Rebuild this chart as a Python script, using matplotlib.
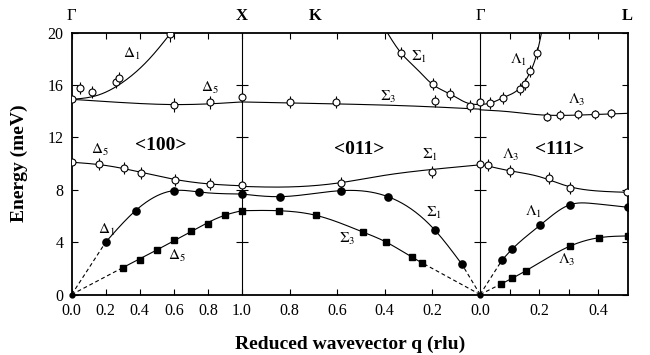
import numpy as np
import matplotlib

matplotlib.use("Agg")
import matplotlib.pyplot as plt

plt.rcParams["font.family"] = ["Liberation Serif", "DejaVu Serif"]
plt.rcParams["mathtext.fontset"] = "stix"

# x layout: each path gets its own stretch of the axis
KG_SCALE = 1.40   # K->Gamma, q runs 1.0 -> 0.0
GL_SCALE = 1.735  # Gamma->L, q runs 0.0 -> 0.5
U_X = 1.0
U_G = U_X + KG_SCALE
U_L = U_G + 0.5 * GL_SCALE

# ---- <100>  Gamma-X ----
D1_OPT_Q = [0.0, 0.05, 0.12, 0.26, 0.28, 0.58]
D1_OPT_E = [14.92, 15.74, 15.48, 16.2, 16.55, 19.86]
D1_OPT_ERR = [0.0, 0.45, 0.45, 0.45, 0.45, 0.55]
D1_OPT_FIT_Q = [0.0, 0.15, 0.3, 0.45, 0.62]
D1_OPT_FIT_E = [14.9, 15.2, 16.2, 17.9, 20.6]

D5_UP_Q = [0.6, 0.81, 1.0]
D5_UP_E = [14.47, 14.67, 15.1]
D5_UP_ERR = [0.5, 0.5, 0.4]
D5_UP_FIT_Q = [0.0, 0.3, 0.6, 0.8, 1.0]
D5_UP_FIT_E = [14.9, 14.65, 14.5, 14.55, 14.7]

D5_OPT_Q = [0.0, 0.16, 0.31, 0.41, 0.61, 0.81, 1.0]
D5_OPT_E = [10.1, 9.95, 9.63, 9.3, 8.74, 8.44, 8.36]
D5_OPT_ERR = [0.0, 0.45, 0.45, 0.45, 0.45, 0.45, 0.35]
D5_OPT_FIT_Q = [0.0, 0.2, 0.4, 0.6, 0.8, 1.0]
D5_OPT_FIT_E = [10.1, 9.85, 9.35, 8.8, 8.45, 8.3]

D1_LA_Q = [0.2, 0.375, 0.6, 0.75, 1.0]
D1_LA_E = [4.0, 6.4, 7.93, 7.82, 7.67]

D5_TA_Q = [0.3, 0.4, 0.5, 0.6, 0.7, 0.8, 0.9, 1.0]
D5_TA_E = [2.05, 2.66, 3.4, 4.13, 4.82, 5.36, 6.09, 6.4]
D5_TA_FIT_Q = [0.3, 0.5, 0.7, 0.9, 1.0]
D5_TA_FIT_E = [2.05, 3.4, 4.8, 6.05, 6.4]

# ---- <011>  X-K-Gamma ----
S1_UP_Q = [0.331, 0.199, 0.125, 0.041]
S1_UP_E = [18.41, 16.05, 15.3, 14.39]
S1_UP_FIT_Q = [0.40, 0.33, 0.27, 0.2, 0.125, 0.05, 0.0]
S1_UP_FIT_E = [20.3, 18.4, 17.3, 16.05, 15.3, 14.6, 14.5]

S3_UP_Q = [0.80, 0.604, 0.19]
S3_UP_E = [14.72, 14.67, 14.8]
S3_UP_FIT_Q = [1.0, 0.6, 0.3, 0.0]
S3_UP_FIT_E = [14.7, 14.55, 14.4, 14.15]

S1_OPT_Q = [0.583, 0.203]
S1_OPT_E = [8.54, 9.38]
S1_OPT_FIT_Q = [1.0, 0.85, 0.6, 0.4, 0.2, 0.0]
S1_OPT_FIT_E = [8.25, 8.2, 8.5, 9.1, 9.55, 9.9]

S1_LA_Q = [0.839, 0.582, 0.387, 0.19, 0.076]
S1_LA_E = [7.47, 7.93, 7.47, 4.92, 2.30]
S1_LA_FIT_Q = [1.0, 0.839, 0.582, 0.387, 0.19, 0.076]
S1_LA_FIT_E = [7.67, 7.47, 7.93, 7.47, 4.92, 2.30]

S3_TA_Q = [0.846, 0.688, 0.492, 0.394, 0.287, 0.242]
S3_TA_E = [6.35, 6.04, 4.77, 4.0, 2.86, 2.40]
S3_TA_FIT_Q = [1.0, 0.85, 0.688, 0.492, 0.394, 0.287, 0.242]
S3_TA_FIT_E = [6.4, 6.4, 6.04, 4.77, 4.0, 2.86, 2.40]

# ---- <111>  Gamma-L ----
L1_UP_Q = [0.0, 0.033, 0.078, 0.134, 0.151, 0.168, 0.193]
L1_UP_E = [14.67, 14.62, 15.02, 15.7, 16.04, 17.07, 18.46]
L1_UP_ERR = [0.35, 0.45, 0.45, 0.45, 0.45, 0.45, 0.45]
L1_UP_FIT_Q = [0.0, 0.04, 0.08, 0.134, 0.168, 0.193, 0.21]
L1_UP_FIT_E = [14.5, 14.65, 15.05, 15.75, 16.9, 18.45, 20.2]

L3_UP_Q = [0.225, 0.272, 0.332, 0.388, 0.445]
L3_UP_E = [13.57, 13.7, 13.75, 13.75, 13.83]
L3_UP_FIT_Q = [0.0, 0.1, 0.2, 0.3, 0.4, 0.5]
L3_UP_FIT_E = [14.1, 13.95, 13.72, 13.68, 13.75, 13.83]

L3_OPT_Q = [0.0, 0.026, 0.103, 0.235, 0.306, 0.498]
L3_OPT_E = [9.96, 9.89, 9.43, 8.87, 8.15, 7.80]
L3_OPT_ERR = [0.35, 0.45, 0.45, 0.45, 0.45, 0.3]
L3_OPT_FIT_Q = [0.0, 0.1, 0.2, 0.3, 0.4, 0.5]
L3_OPT_FIT_E = [9.95, 9.45, 9.0, 8.25, 7.9, 7.8]

L1_LA_Q = [0.075, 0.108, 0.204, 0.304, 0.5]
L1_LA_E = [2.65, 3.45, 5.3, 6.85, 6.66]
L1_LA_FIT_Q = [0.075, 0.108, 0.204, 0.304, 0.38, 0.5]
L1_LA_FIT_E = [2.65, 3.45, 5.3, 6.85, 6.95, 6.66]

L3_TA_Q = [0.071, 0.108, 0.154, 0.303, 0.404, 0.5]
L3_TA_E = [0.8, 1.23, 1.8, 3.68, 4.34, 4.47]

E_TICKS = [0, 4, 8, 12, 16, 20]


def to_u(seg, q):
    q = np.asarray(q, dtype=float)
    if seg == "GX":
        return q
    if seg == "KG":
        return U_X + (1.0 - q) * KG_SCALE
    return U_G + q * GL_SCALE


def spline(x, y, n=200):
    # natural cubic spline through knots
    order = np.argsort(x)
    x = np.asarray(x, float)[order]
    y = np.asarray(y, float)[order]
    k = len(x)
    h = np.diff(x)
    A = np.zeros((k, k))
    r = np.zeros(k)
    A[0, 0] = A[-1, -1] = 1.0
    for i in range(1, k - 1):
        A[i, i - 1] = h[i - 1]
        A[i, i] = 2 * (h[i - 1] + h[i])
        A[i, i + 1] = h[i]
        r[i] = 6 * ((y[i + 1] - y[i]) / h[i] - (y[i] - y[i - 1]) / h[i - 1])
    M = np.linalg.solve(A, r)
    xs = np.linspace(x[0], x[-1], n)
    j = np.clip(np.searchsorted(x, xs) - 1, 0, k - 2)
    a = x[j + 1] - xs
    b = xs - x[j]
    hj = h[j]
    ys = (M[j] * a**3 + M[j + 1] * b**3) / (6 * hj) \
        + (y[j] / hj - M[j] * hj / 6) * a + (y[j + 1] / hj - M[j + 1] * hj / 6) * b
    return xs, ys


fig = plt.figure(figsize=(6.5, 3.55), dpi=100)
ax = fig.add_axes([0.1103, 0.1704, 0.8554, 0.738])

LW = 0.8


def fit(seg, q, e):
    xs, ys = spline(to_u(seg, q), e)
    ax.plot(xs, ys, color="k", lw=LW, zorder=2)


def dashed(seg, q, e):
    ax.plot(to_u(seg, [0.0, q]), [0.0, e], color="k", lw=LW, ls=(0, (3.5, 2.5)), zorder=2)


def open_pts(seg, q, e, err=None):
    u = to_u(seg, q)
    if err is None:
        err = [0.45] * len(q)
    ax.errorbar(u, e, yerr=err, fmt="none", ecolor="k", elinewidth=0.8, capsize=0, zorder=3)
    ax.plot(u, e, "o", ms=5.0, mfc="white", mec="k", mew=0.8, zorder=4)


def filled(seg, q, e, marker="o"):
    ms = 5.2 if marker == "o" else 4.6
    ax.plot(to_u(seg, q), e, marker, ms=ms, color="k", zorder=4)


# curves
fit("GX", D1_OPT_FIT_Q, D1_OPT_FIT_E)
fit("GX", D5_UP_FIT_Q, D5_UP_FIT_E)
fit("GX", D5_OPT_FIT_Q, D5_OPT_FIT_E)
fit("GX", D1_LA_Q, D1_LA_E)
fit("GX", D5_TA_FIT_Q, D5_TA_FIT_E)
fit("KG", S1_UP_FIT_Q, S1_UP_FIT_E)
fit("KG", S3_UP_FIT_Q, S3_UP_FIT_E)
fit("KG", S1_OPT_FIT_Q, S1_OPT_FIT_E)
fit("KG", S1_LA_FIT_Q, S1_LA_FIT_E)
fit("KG", S3_TA_FIT_Q, S3_TA_FIT_E)
fit("GL", L1_UP_FIT_Q, L1_UP_FIT_E)
fit("GL", L3_UP_FIT_Q, L3_UP_FIT_E)
fit("GL", L3_OPT_FIT_Q, L3_OPT_FIT_E)
fit("GL", L1_LA_FIT_Q, L1_LA_FIT_E)
fit("GL", L3_TA_Q, L3_TA_E)

# dashed acoustic slopes from Gamma
dashed("GX", D1_LA_Q[0], D1_LA_E[0])
dashed("GX", D5_TA_Q[0], D5_TA_E[0])
dashed("KG", S1_LA_Q[-1], S1_LA_E[-1])
dashed("KG", S3_TA_Q[-1], S3_TA_E[-1])
dashed("GL", L1_LA_Q[0], L1_LA_E[0])
dashed("GL", L3_TA_Q[0], L3_TA_E[0])

# data points
open_pts("GX", D1_OPT_Q, D1_OPT_E, D1_OPT_ERR)
open_pts("GX", D5_UP_Q, D5_UP_E, D5_UP_ERR)
open_pts("GX", D5_OPT_Q, D5_OPT_E, D5_OPT_ERR)
filled("GX", D1_LA_Q, D1_LA_E)
filled("GX", D5_TA_Q, D5_TA_E, "s")
open_pts("KG", S1_UP_Q, S1_UP_E)
open_pts("KG", S3_UP_Q, S3_UP_E)
open_pts("KG", S1_OPT_Q, S1_OPT_E)
filled("KG", S1_LA_Q, S1_LA_E)
filled("KG", S3_TA_Q, S3_TA_E, "s")
open_pts("GL", L1_UP_Q, L1_UP_E, L1_UP_ERR)
open_pts("GL", L3_UP_Q, L3_UP_E, [0.35] * len(L3_UP_Q))
open_pts("GL", L3_OPT_Q, L3_OPT_E, L3_OPT_ERR)
filled("GL", L1_LA_Q, L1_LA_E)
filled("GL", L3_TA_Q, L3_TA_E, "s")
ax.plot([0.0, U_G], [0.0, 0.0], "o", ms=3.5, color="k", zorder=5, clip_on=False)

# path dividers at X and Gamma, with small ticks
for u in (U_X, U_G):
    ax.axvline(u, color="k", lw=LW, zorder=1)
    ax.plot([u] * 4, E_TICKS[1:5], ls="none", marker="_", ms=8, mew=0.8, color="k")

# branch labels
LABELS = [
    (0.353, 18.4, r"$\Delta_1$"), (0.814, 15.74, r"$\Delta_5$"),
    (0.166, 11.03, r"$\Delta_5$"), (0.206, 4.92, r"$\Delta_1$"),
    (0.618, 2.94, r"$\Delta_5$"),
    (2.039, 18.15, r"$\Sigma_1$"), (1.862, 15.1, r"$\Sigma_3$"),
    (2.104, 10.65, r"$\Sigma_1$"), (2.127, 6.2, r"$\Sigma_1$"),
    (1.618, 4.21, r"$\Sigma_3$"),
    (2.627, 17.9, r"$\Lambda_1$"), (2.971, 14.85, r"$\Lambda_3$"),
    (2.578, 10.65, r"$\Lambda_3$"), (2.715, 6.32, r"$\Lambda_1$"),
    (2.912, 2.63, r"$\Lambda_3$"),
]
for u, e, s in LABELS:
    ax.text(u, e, s, ha="center", va="center", fontsize=11)

for u, e, s in [(0.525, 11.36, "<100>"), (1.688, 11.08, "<011>"), (2.866, 11.1, "<111>")]:
    ax.text(u, e, s, ha="center", va="center", fontsize=14, fontweight="bold")

# high-symmetry point labels on top
for u, s, w in [(0.0, "Γ", "normal"), (U_X, "X", "bold"), (1.431, "K", "bold"),
                (U_G, "Γ", "normal"), (U_L, "L", "bold")]:
    ax.annotate(s, (u, 1.0), xycoords=("data", "axes fraction"), xytext=(0, 9),
                textcoords="offset points", ha="center", va="baseline",
                fontsize=12, fontweight=w)

# ticks
tick_u = list(to_u("GX", [0.0, 0.2, 0.4, 0.6, 0.8, 1.0]))
tick_l = ["0.0", "0.2", "0.4", "0.6", "0.8", "1.0"]
tick_u += list(to_u("KG", [0.8, 0.6, 0.4, 0.2, 0.0]))
tick_l += ["0.8", "0.6", "0.4", "0.2", "0.0"]
tick_u += list(to_u("GL", [0.1, 0.2, 0.3, 0.4]))
tick_l += ["", "0.2", "", "0.4"]
ax.set_xticks(tick_u, tick_l)
ax.set_yticks(E_TICKS)
ax.set_xlim(0, U_L)
ax.set_ylim(0, 20)
ax.tick_params(direction="in", top=True, right=True, length=4, width=0.8,
               labelsize=11.5, pad=6)
for sp in ax.spines.values():
    sp.set_linewidth(1.3)

ax.set_xlabel("Reduced wavevector q (rlu)", fontsize=14, fontweight="bold", labelpad=12)
ax.set_ylabel("Energy (meV)", fontsize=14, fontweight="bold", labelpad=14)

fig.savefig("out.png", dpi=100)
